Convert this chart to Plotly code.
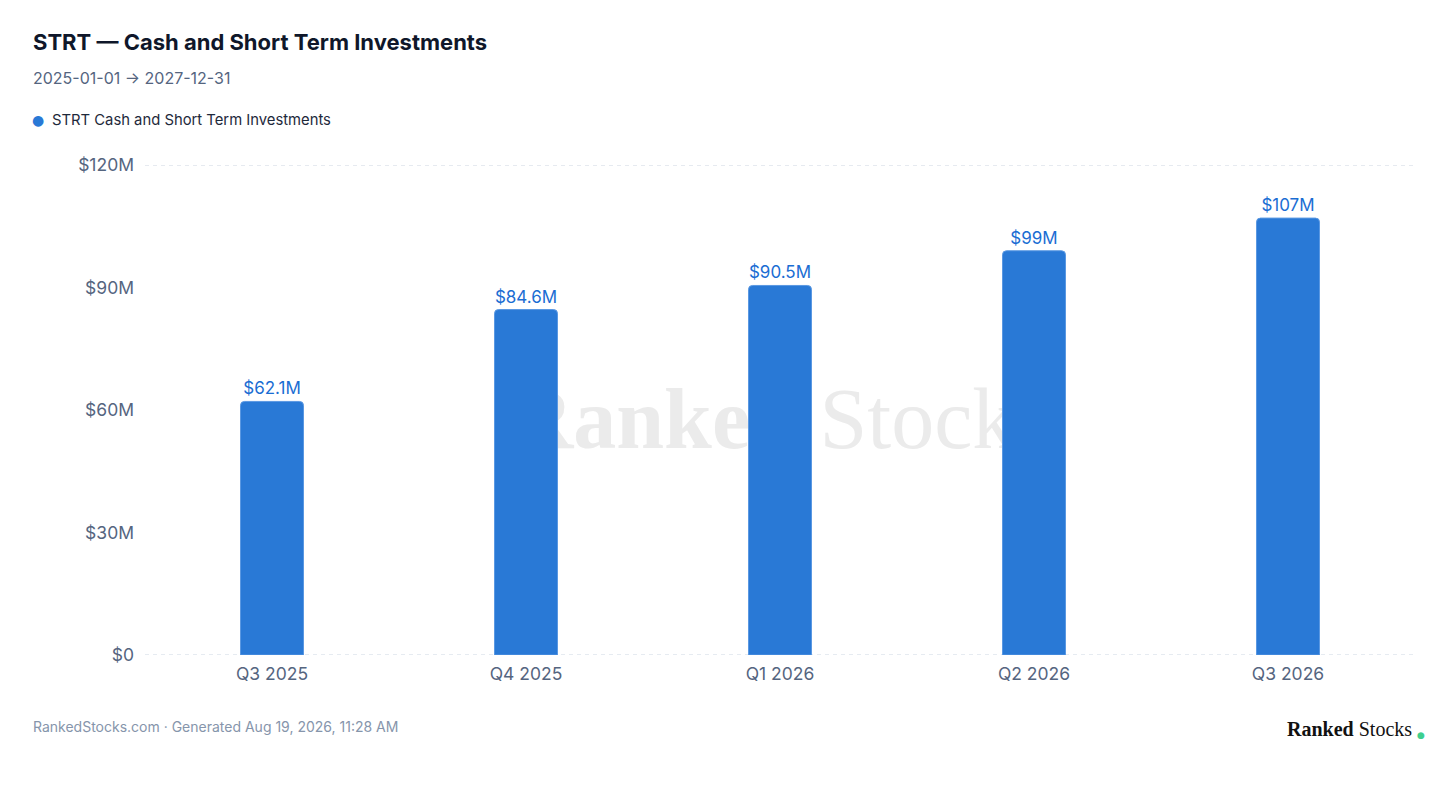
import plotly.graph_objects as go

# data
quarters = ['Q3 2025', 'Q4 2025', 'Q1 2026', 'Q2 2026', 'Q3 2026']
cash = [62.1e6, 84.6e6, 90.5e6, 99.0e6, 107.0e6]
y_ticks = [0, 30e6, 60e6, 90e6, 120e6]
y_range = [0, 120e6]

title = 'STRT — Cash and Short Term Investments'
subtitle = '2025-01-01 → 2027-12-31'
series_name = 'STRT Cash and Short Term Investments'
footer = 'RankedStocks.com · Generated Aug 19, 2026, 11:28 AM'

BLUE = '#2979d6'
LABEL_BLUE = '#1a6dd3'
SLATE = '#55657f'
FONT = 'Inter, Roboto, sans-serif'
SERIF = 'Liberation Serif, DejaVu Serif, serif'

labels = ['${:.3g}M'.format(v / 1e6) for v in cash]
tick_text = ['$0' if v == 0 else '${:g}M'.format(v / 1e6) for v in y_ticks]

# the page body adds an 8px offset, so the figure is a bit smaller than the window
W, H = 1440, 774
OFF = 8
PLOT_L, PLOT_R, PLOT_T, PLOT_B = 145, 1415, 165, 655  # screen px


def px_x(x):
    return (x - PLOT_L) / (PLOT_R - PLOT_L)


def px_y(y):
    return (PLOT_B - y) / (PLOT_B - PLOT_T)


fig = go.Figure()
fig.add_trace(go.Bar(
    x=quarters, y=cash,
    name=series_name,
    marker=dict(color=BLUE, line=dict(color='#5a98e2', width=1), cornerradius=4),
    text=labels, textposition='outside',
    textfont=dict(color=LABEL_BLUE, size=17, family=FONT),
    cliponaxis=False,
    showlegend=False,
))

# only the top and bottom gridlines are drawn (dashed)
for yv in y_range:
    fig.add_hline(y=yv, line=dict(color='#cdd6e2', width=1, dash='4px,4px'), layer='below')

# watermark behind the bars
fig.add_shape(
    type='rect', xref='paper', yref='paper', x0=0, x1=1, y0=0, y1=1,
    line=dict(width=0), fillcolor='rgba(0,0,0,0)', layer='below',
    label=dict(text='<b>Ranked</b> Stocks', textposition='middle center',
               font=dict(family=SERIF, size=86, color='#ebebeb')),
)

annotations = [
    dict(text='<b>' + title + '</b>', x=31, y=42, font=dict(size=22, color='#0f172a', family=FONT)),
    dict(text=subtitle, x=31, y=78, font=dict(size=16, color=SLATE, family=FONT)),
    dict(text='●', x=30, y=120, font=dict(size=14, color=BLUE, family='DejaVu Sans')),
    dict(text=series_name, x=50, y=120, font=dict(size=14.8, color='#1e293b', family=FONT)),
    dict(text=footer, x=31, y=726, font=dict(size=14, color='#8695ab', family=FONT)),
]
for a in annotations:
    fig.add_annotation(
        text=a['text'], font=a['font'], showarrow=False,
        xref='paper', yref='paper', x=px_x(a['x']), y=px_y(a['y']),
        xanchor='left', yanchor='middle',
    )

# logo, bottom right
fig.add_annotation(
    text='<b>Ranked</b> Stocks', showarrow=False, xref='paper', yref='paper',
    x=px_x(1414), y=px_y(729), xanchor='right', yanchor='middle',
    font=dict(family=SERIF, size=20, color='#111111'),
)
fig.add_annotation(
    text='●', showarrow=False, xref='paper', yref='paper',
    x=px_x(1421), y=px_y(735), xanchor='center', yanchor='middle',
    font=dict(family='DejaVu Sans', size=9, color='#3ecf8e'),
)

fig.update_layout(
    width=W, height=H,
    margin=dict(l=PLOT_L - OFF, r=W - (PLOT_R - OFF), t=PLOT_T - OFF, b=H - (PLOT_B - OFF)),
    paper_bgcolor='white', plot_bgcolor='white',
    bargap=0.752,
    font=dict(family=FONT, color=SLATE),
    xaxis=dict(showgrid=False, zeroline=False, showline=False,
               tickfont=dict(size=17.5, color=SLATE), ticks='', ticklabelstandoff=6),
    yaxis=dict(range=y_range, tickvals=y_ticks, ticktext=tick_text,
               showgrid=False, zeroline=False, showline=False,
               tickfont=dict(size=17.5, color=SLATE), ticklabelstandoff=10),
)

fig.write_html('out.html')
